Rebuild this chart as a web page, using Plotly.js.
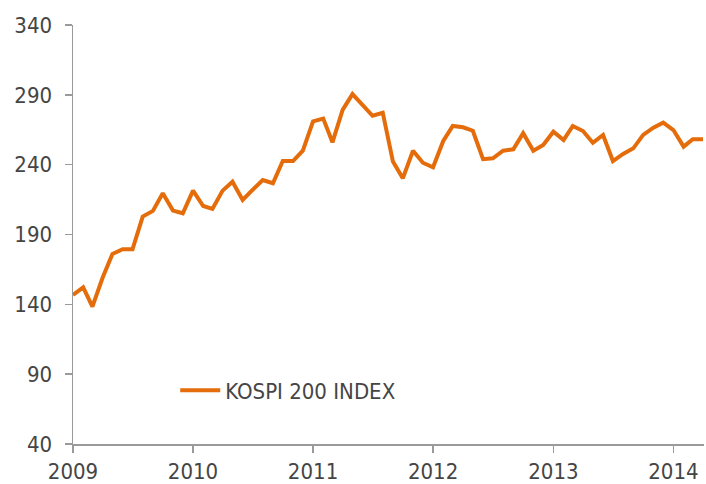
<!DOCTYPE html>
<html>
<head>
<meta charset="utf-8">
<script src="https://cdn.plot.ly/plotly-3.0.1.min.js"></script>
<style>html,body{margin:0;padding:0;background:#fff;}#chart{width:706px;height:484px;}</style>
</head>
<body>
<div id="chart"></div>
<script>
// Monthly KOSPI 200 index, Jan 2009 - Apr 2014
var seriesName = "KOSPI 200 INDEX";
var startYear = 2009;
var values2009 = [146.7, 152.2, 138.4, 159.0, 176.1, 179.4, 179.4, 202.8, 206.9, 219.5, 207.1, 205.2];
var values2010 = [221.4, 210.4, 208.3, 221.4, 227.8, 214.7, 221.9, 229.0, 226.7, 242.6, 242.6, 250.0];
var values2011 = [271.0, 273.0, 256.0, 279.2, 290.5, 283.0, 275.0, 277.2, 242.2, 230.2, 250.0, 241.4];
var values2012 = [238.1, 257.0, 267.7, 266.8, 264.3, 243.9, 244.6, 250.0, 251.0, 262.5, 250.0, 254.1];
var values2013 = [263.6, 257.7, 267.7, 264.1, 255.7, 261.3, 242.6, 247.7, 251.7, 261.3, 266.5, 270.1];
var values2014 = [264.8, 252.9, 258.2, 258.2];
var yTicks = [40, 90, 140, 190, 240, 290, 340];

var values = [].concat(values2009, values2010, values2011, values2012, values2013, values2014);
var dates = values.map(function (v, i) {
  var y = startYear + Math.floor(i / 12);
  var m = (i % 12) + 1;
  return y + "-" + (m < 10 ? "0" + m : m) + "-01";
});

var font = {family: "DejaVu Sans Condensed, DejaVu Sans, sans-serif", size: 22, color: "#454545"};

var trace = {
  x: dates,
  y: values,
  type: "scatter",
  mode: "lines",
  name: seriesName,
  line: {color: "#E46C0A", width: 4}
};

var layout = {
  width: 706,
  height: 484,
  margin: {l: 73, r: 2, t: 25, b: 40, pad: 0},
  paper_bgcolor: "#ffffff",
  plot_bgcolor: "#ffffff",
  font: font,
  showlegend: true,
  legend: {
    x: 0.162, y: 0.128, xanchor: "left", yanchor: "middle",
    bgcolor: "rgba(0,0,0,0)", font: font, itemwidth: 40
  },
  xaxis: {
    type: "date",
    range: ["2009-01-01", "2014-04-04"],
    dtick: "M12",
    tick0: "2009-01-01",
    tickformat: "%Y",
    showgrid: false,
    zeroline: false,
    showline: true,
    linecolor: "#9a9a9a",
    linewidth: 1.5,
    ticks: "outside",
    ticklen: 7,
    tickcolor: "#9a9a9a",
    tickwidth: 1.5,
    tickfont: font
  },
  yaxis: {
    range: [40, 340],
    tickvals: yTicks,
    ticktext: yTicks.map(String),
    showgrid: false,
    zeroline: false,
    showline: true,
    linecolor: "#9a9a9a",
    linewidth: 1.5,
    ticks: "outside",
    ticklen: 7,
    tickcolor: "#9a9a9a",
    tickwidth: 1.5,
    ticklabelstandoff: 8,
    tickfont: font
  }
};

Plotly.newPlot("chart", [trace], layout, {displayModeBar: false, staticPlot: true});
</script>
</body>
</html>
